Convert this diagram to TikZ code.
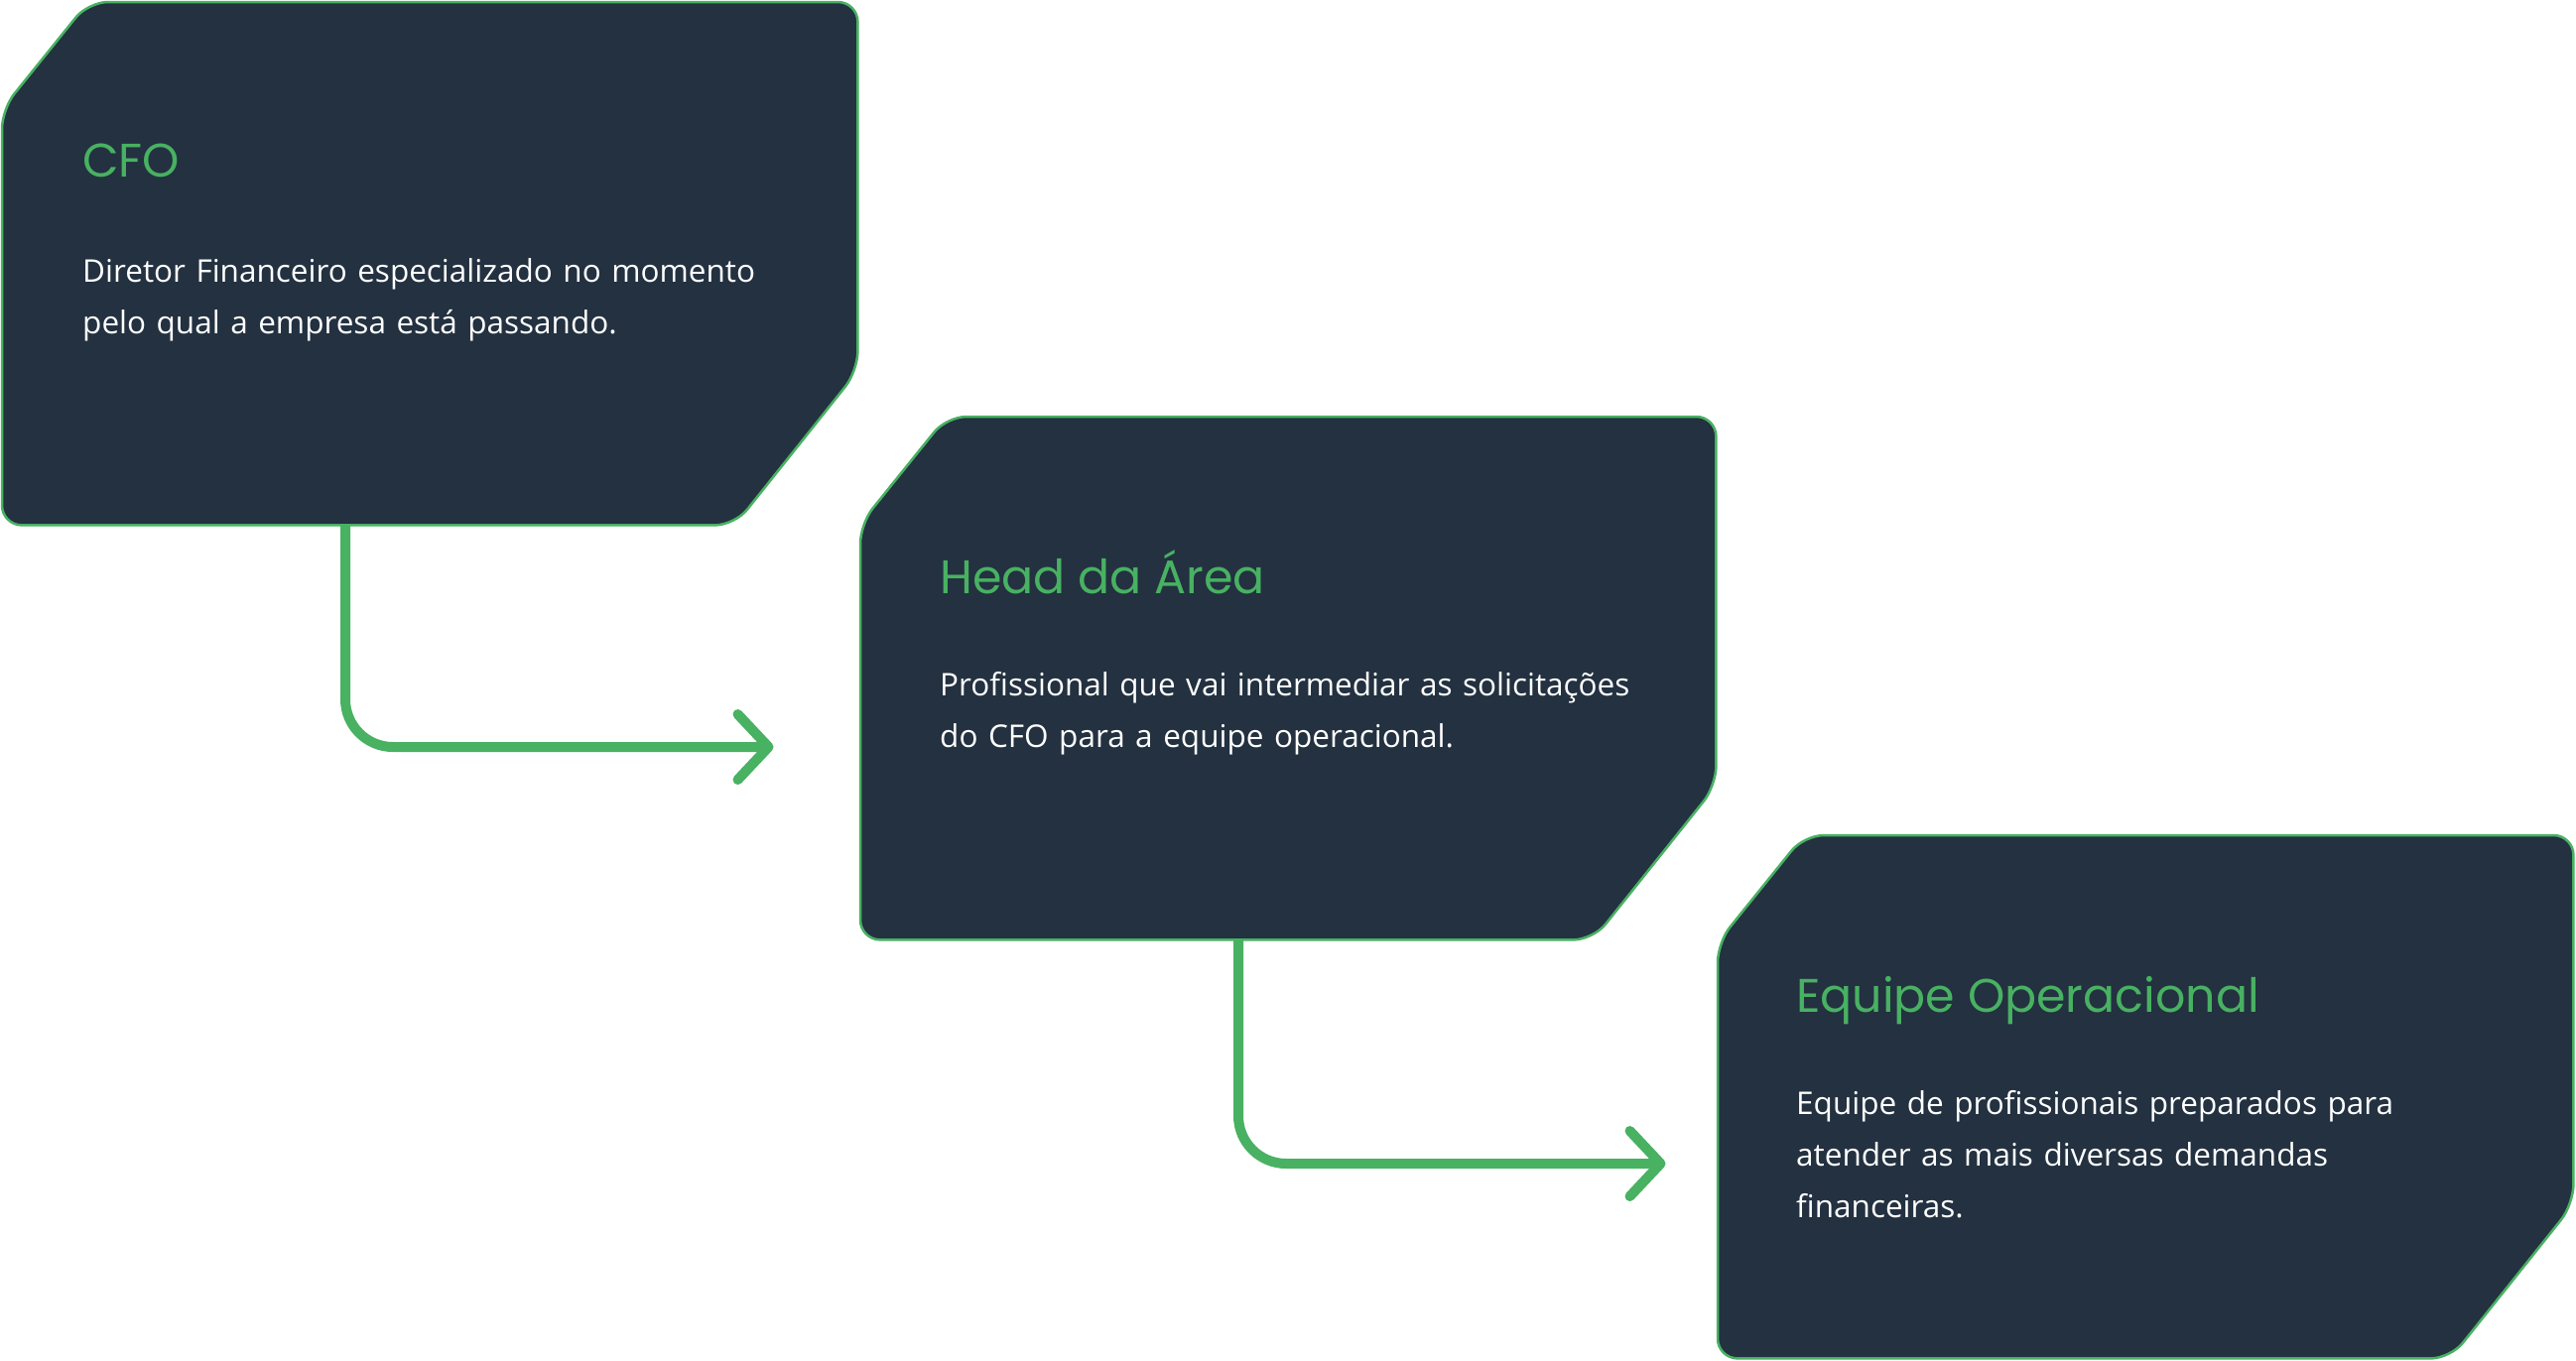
\documentclass[tikz,border=0pt]{standalone}
\usepackage{fontspec}
\setmainfont{Open Sans}
\newfontfamily\titlefont{Poppins}
\usetikzlibrary{arrows.meta}
\definecolor{boxfill}{HTML}{233140}
\definecolor{accent}{HTML}{48B162}
\begin{document}
\begin{tikzpicture}[x=1pt,y=-1pt,
  frame/.style={inner sep=0pt, minimum width=862pt, minimum height=527pt, anchor=north west},
  stepbox/.style={draw=accent, line width=2.5pt, fill=boxfill, rounded corners=20pt},
  ttl/.style={anchor=base west, inner sep=0pt, text=accent, font=\titlefont\fontsize{47.5}{52}\selectfont},
  body/.style={anchor=base west, inner sep=0pt, text=white, text width=800pt, align=left, font=\fontsize{31.5}{52}\selectfont},
  flow/.style={draw=accent, line width=10pt, rounded corners=48pt, -{Straight Barb[length=31pt,width=66pt,round]}}
]
\useasboundingbox (0,0) rectangle (2596,1371);
\fill[white] (0,0) rectangle (2596,1371);

\node[frame] (b1) at (2,2) {};
\node[frame] (b2) at (867,420) {};
\node[frame] (b3) at (1731,842) {};

\foreach \b in {b1,b2,b3}{
  \draw[stepbox] ([xshift=400pt]\b.north west) -- (\b.north east) -- ([yshift=-372pt]\b.north east)
    -- ([xshift=-124pt]\b.south east) -- (\b.south west) -- ([yshift=-108pt]\b.north west)
    -- ([xshift=87pt]\b.north west) -- cycle;
}

\node[ttl] (t1) at ([xshift=81pt,yshift=-176pt]b1.north west) {CFO};
\node[body] (d1) at ([xshift=81pt,yshift=-282pt]b1.north west) {Diretor Financeiro especializado no momento\\pelo qual a empresa está passando.};

\node[ttl] (t2) at ([xshift=80pt,yshift=-178pt]b2.north west) {Head da Área};
\node[body] (d2) at ([xshift=80pt,yshift=-281pt]b2.north west) {Profissional que vai intermediar as solicitações\\do CFO para a equipe operacional.};

\node[ttl] (t3) at ([xshift=79pt,yshift=-178pt]b3.north west) {Equipe Operacional};
\node[body] (d3) at ([xshift=79pt,yshift=-281pt]b3.north west) {Equipe de profissionais preparados para\\atender as mais diversas demandas\\financeiras.};

\coordinate (e1) at (779.5,753);
\coordinate (e2) at (1678.5,1173);
\draw[flow] ([xshift=346pt]b1.south west) |- (e1);
\draw[flow] ([xshift=381pt]b2.south west) |- (e2);
\end{tikzpicture}
\end{document}
